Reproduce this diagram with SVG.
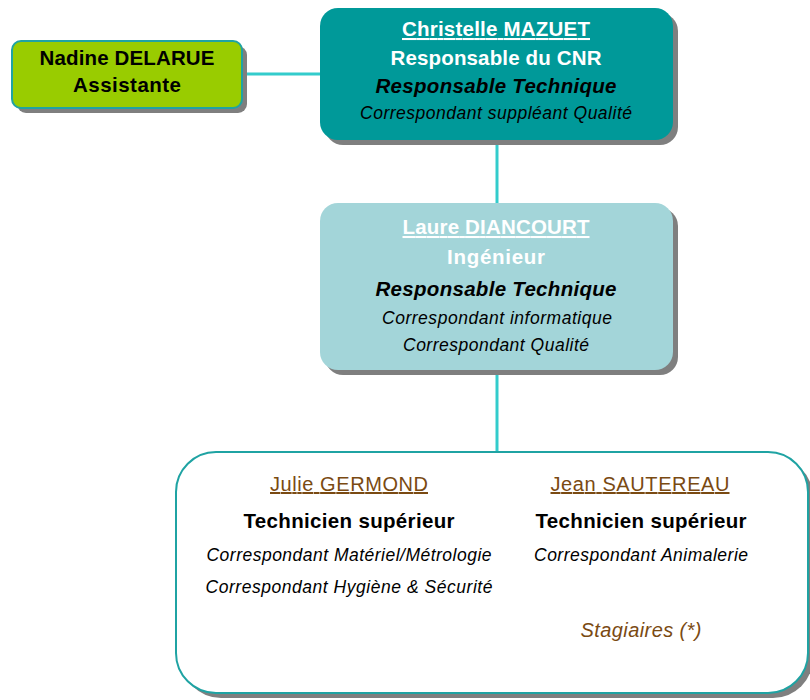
<svg xmlns="http://www.w3.org/2000/svg" width="810" height="700" viewBox="0 0 810 700">
<style>
text{font-family:"Liberation Sans",Arial,sans-serif;text-anchor:middle}
.b{font-weight:bold;font-size:20.5px}
.s{font-style:italic;font-size:17.5px}
.i{font-style:italic}
.w{fill:#ffffff}
.k{fill:#000000}
.br{fill:#7a4a12}
.n{font-size:20px}
.u{text-decoration:underline}
.shadow{fill:#7f7f7f}
.conn{stroke:#33cccc;stroke-width:3;fill:none}
</style>
<g id="connectors">
<line class="conn" x1="242" y1="74" x2="320" y2="74"/>
<line class="conn" x1="497" y1="140" x2="497" y2="204"/>
<line class="conn" x1="497" y1="370" x2="497" y2="452"/>
</g>
<g id="nadine">
<rect class="shadow" x="17" y="46" width="230" height="67" rx="9"/>
<rect x="12" y="41" width="230" height="67" rx="9" fill="#99cc00" stroke="#1fa3a3" stroke-width="2"/>
<text class="b k" x="127" y="65" textLength="175">Nadine DELARUE</text>
<text class="b k" x="127" y="92" textLength="108">Assistante</text>
</g>
<g id="christelle">
<rect class="shadow" x="325" y="13" width="353" height="132" rx="18"/>
<rect x="320" y="8" width="353" height="132" rx="18" fill="#009999"/>
<text class="b w u" x="496" y="36" textLength="188">Christelle MAZUET</text>
<text class="b w" x="496" y="65" textLength="211">Responsable du CNR</text>
<text class="b i k" x="496" y="93" textLength="241">Responsable Technique</text>
<text class="s k" x="496" y="119" textLength="272">Correspondant suppléant Qualité</text>
</g>
<g id="laure">
<rect class="shadow" x="325" y="208" width="353" height="167" rx="18"/>
<rect x="320" y="203" width="353" height="167" rx="18" fill="#a3d5d9"/>
<text class="b w u" x="496" y="234" textLength="187">Laure DIANCOURT</text>
<text class="b w" x="496" y="264" textLength="98">Ingénieur</text>
<text class="b i k" x="496" y="296" textLength="241">Responsable Technique</text>
<text class="s k" x="497" y="324" textLength="230">Correspondant informatique</text>
<text class="s k" x="496" y="351" textLength="186">Correspondant Qualité</text>
</g>
<g id="techniciens">
<rect class="shadow" x="181" y="457" width="632" height="241" rx="40"/>
<rect x="176" y="452" width="632" height="241" rx="40" fill="#ffffff" stroke="#1fa3a3" stroke-width="2"/>
<text class="br u n" x="349" y="491" textLength="158">Julie GERMOND</text>
<text class="b k" x="349" y="528" textLength="211">Technicien supérieur</text>
<text class="s k" x="349" y="561" textLength="285">Correspondant Matériel/Métrologie</text>
<text class="s k" x="349" y="593" textLength="287">Correspondant Hygiène &amp; Sécurité</text>
<text class="br u n" x="640" y="491" textLength="179">Jean SAUTEREAU</text>
<text class="b k" x="641" y="528" textLength="211">Technicien supérieur</text>
<text class="s k" x="641" y="561" textLength="214">Correspondant Animalerie</text>
<text class="br i n" x="641" y="637" textLength="121">Stagiaires (*)</text>
</g>
</svg>
